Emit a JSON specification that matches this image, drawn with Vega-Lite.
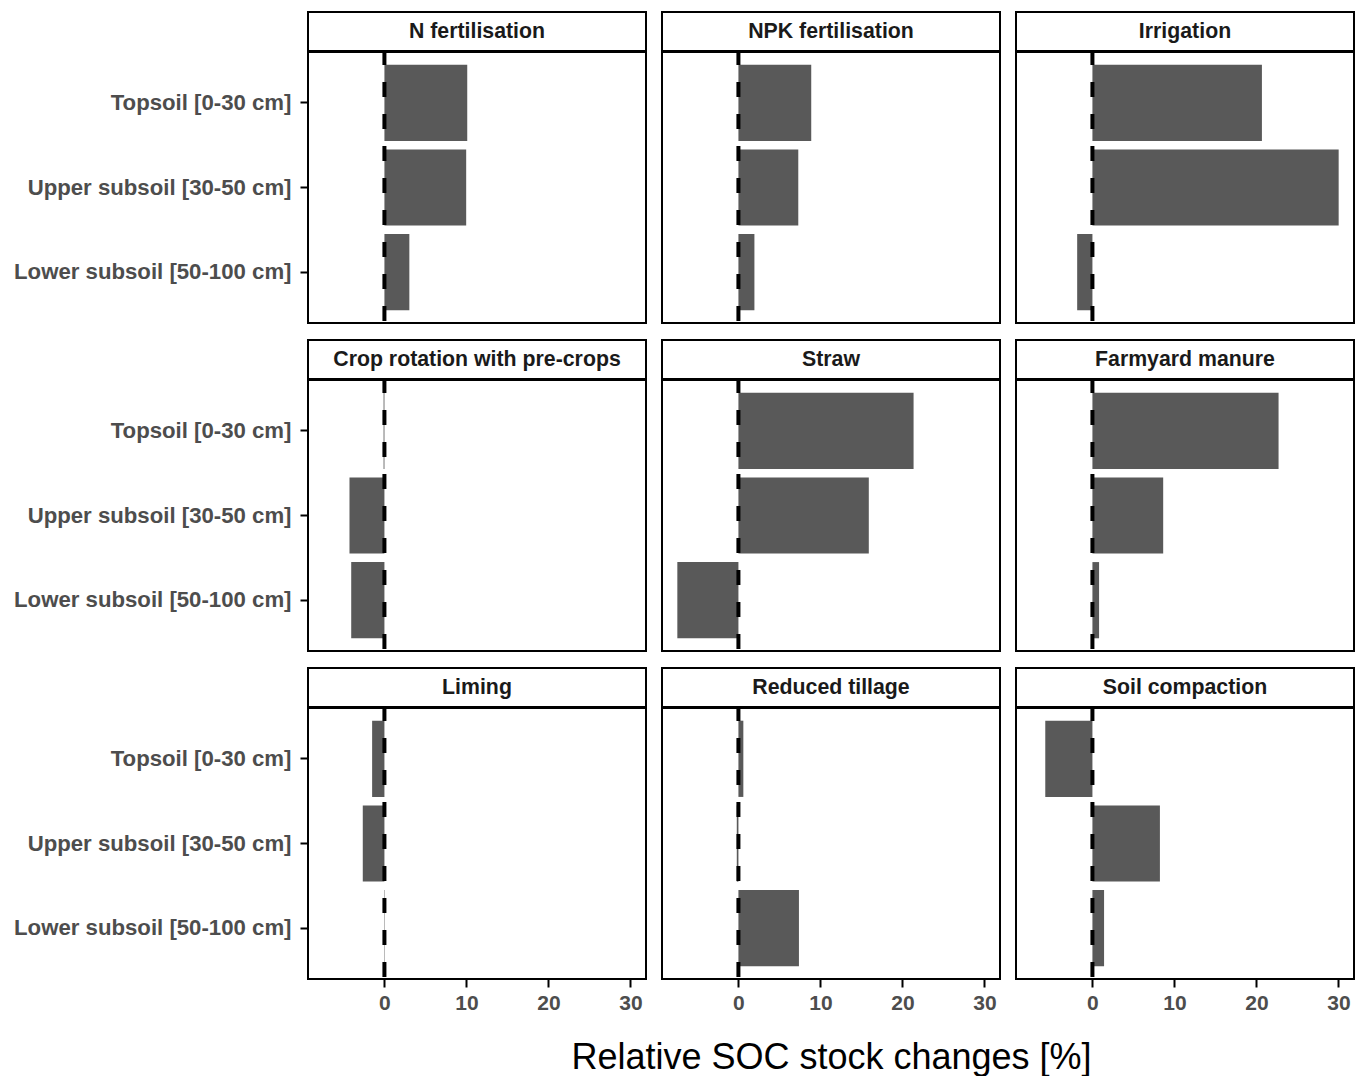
{
  "$schema": "https://vega.github.io/schema/vega-lite/v6.json",
  "background": "white",
  "padding": {"left": 12, "top": 11, "right": 5, "bottom": 5},
  "datasets": {
    "soc": [
      {"treatment": "N fertilisation", "depth": "Topsoil [0-30 cm]", "change": 10.1},
      {"treatment": "N fertilisation", "depth": "Upper subsoil [30-50 cm]", "change": 9.97},
      {"treatment": "N fertilisation", "depth": "Lower subsoil [50-100 cm]", "change": 3.04},
      {"treatment": "NPK fertilisation", "depth": "Topsoil [0-30 cm]", "change": 8.88},
      {"treatment": "NPK fertilisation", "depth": "Upper subsoil [30-50 cm]", "change": 7.3},
      {"treatment": "NPK fertilisation", "depth": "Lower subsoil [50-100 cm]", "change": 1.95},
      {"treatment": "Irrigation", "depth": "Topsoil [0-30 cm]", "change": 20.67},
      {"treatment": "Irrigation", "depth": "Upper subsoil [30-50 cm]", "change": 30.03},
      {"treatment": "Irrigation", "depth": "Lower subsoil [50-100 cm]", "change": -1.86},
      {"treatment": "Crop rotation with pre-crops", "depth": "Topsoil [0-30 cm]", "change": -0.1},
      {"treatment": "Crop rotation with pre-crops", "depth": "Upper subsoil [30-50 cm]", "change": -4.26},
      {"treatment": "Crop rotation with pre-crops", "depth": "Lower subsoil [50-100 cm]", "change": -4.05},
      {"treatment": "Straw", "depth": "Topsoil [0-30 cm]", "change": 21.36},
      {"treatment": "Straw", "depth": "Upper subsoil [30-50 cm]", "change": 15.9},
      {"treatment": "Straw", "depth": "Lower subsoil [50-100 cm]", "change": -7.45},
      {"treatment": "Farmyard manure", "depth": "Topsoil [0-30 cm]", "change": 22.7},
      {"treatment": "Farmyard manure", "depth": "Upper subsoil [30-50 cm]", "change": 8.63},
      {"treatment": "Farmyard manure", "depth": "Lower subsoil [50-100 cm]", "change": 0.81},
      {"treatment": "Liming", "depth": "Topsoil [0-30 cm]", "change": -1.5},
      {"treatment": "Liming", "depth": "Upper subsoil [30-50 cm]", "change": -2.64},
      {"treatment": "Liming", "depth": "Lower subsoil [50-100 cm]", "change": 0.05},
      {"treatment": "Reduced tillage", "depth": "Topsoil [0-30 cm]", "change": 0.6},
      {"treatment": "Reduced tillage", "depth": "Upper subsoil [30-50 cm]", "change": -0.2},
      {"treatment": "Reduced tillage", "depth": "Lower subsoil [50-100 cm]", "change": 7.38},
      {"treatment": "Soil compaction", "depth": "Topsoil [0-30 cm]", "change": -5.75},
      {"treatment": "Soil compaction", "depth": "Upper subsoil [30-50 cm]", "change": 8.23},
      {"treatment": "Soil compaction", "depth": "Lower subsoil [50-100 cm]", "change": 1.42}
    ]
  },
  "spacing": 13,
  "vconcat": [
    {"spacing": -3, "vconcat": [
      {"spacing": 16, "bounds": "flush", "hconcat": [
        {"width": 338, "height": 39, "data": {"name": "soc"},
         "transform": [{"filter": "datum.treatment === 'N fertilisation' && datum.depth === 'Topsoil [0-30 cm]'"}],
         "layer": [{"mark": {"type": "rect", "fill": "white", "stroke": "black", "strokeWidth": 2}, "encoding": {}},
                   {"mark": {"type": "text"}, "encoding": {"text": {"field": "treatment"}}}]},
        {"width": 338, "height": 39, "data": {"name": "soc"},
         "transform": [{"filter": "datum.treatment === 'NPK fertilisation' && datum.depth === 'Topsoil [0-30 cm]'"}],
         "layer": [{"mark": {"type": "rect", "fill": "white", "stroke": "black", "strokeWidth": 2}, "encoding": {}},
                   {"mark": {"type": "text"}, "encoding": {"text": {"field": "treatment"}}}]},
        {"width": 338, "height": 39, "data": {"name": "soc"},
         "transform": [{"filter": "datum.treatment === 'Irrigation' && datum.depth === 'Topsoil [0-30 cm]'"}],
         "layer": [{"mark": {"type": "rect", "fill": "white", "stroke": "black", "strokeWidth": 2}, "encoding": {}},
                   {"mark": {"type": "text"}, "encoding": {"text": {"field": "treatment"}}}]}
      ]},
      {"spacing": 16, "bounds": "flush", "hconcat": [
        {"width": 338, "height": 271, "data": {"name": "soc"},
         "transform": [{"filter": "datum.treatment === 'N fertilisation'"}],
         "layer": [
           {"mark": {"type": "bar", "color": "#595959"},
            "encoding": {
              "x": {"field": "change", "type": "quantitative", "scale": {"domain": [-9.32, 31.9], "nice": false}, "axis": null},
              "x2": {"datum": 0},
              "y": {"field": "depth", "type": "nominal", "sort": ["Topsoil [0-30 cm]", "Upper subsoil [30-50 cm]", "Lower subsoil [50-100 cm]"], "scale": {"paddingInner": 0.1, "paddingOuter": 0.15}, "title": null}}},
           {"transform": [{"filter": "datum.depth === 'Topsoil [0-30 cm]'"}],
            "mark": {"type": "rule", "color": "black", "strokeWidth": 4, "strokeDash": [15, 17], "strokeDashOffset": 2},
            "encoding": {"x": {"datum": 0}}}
         ]},
        {"width": 338, "height": 271, "data": {"name": "soc"},
         "transform": [{"filter": "datum.treatment === 'NPK fertilisation'"}],
         "layer": [
           {"mark": {"type": "bar", "color": "#595959"},
            "encoding": {
              "x": {"field": "change", "type": "quantitative", "scale": {"domain": [-9.32, 31.9], "nice": false}, "axis": null},
              "x2": {"datum": 0},
              "y": {"field": "depth", "type": "nominal", "sort": ["Topsoil [0-30 cm]", "Upper subsoil [30-50 cm]", "Lower subsoil [50-100 cm]"], "scale": {"paddingInner": 0.1, "paddingOuter": 0.15}, "axis": null}}},
           {"transform": [{"filter": "datum.depth === 'Topsoil [0-30 cm]'"}],
            "mark": {"type": "rule", "color": "black", "strokeWidth": 4, "strokeDash": [15, 17], "strokeDashOffset": 2},
            "encoding": {"x": {"datum": 0}}}
         ]},
        {"width": 338, "height": 271, "data": {"name": "soc"},
         "transform": [{"filter": "datum.treatment === 'Irrigation'"}],
         "layer": [
           {"mark": {"type": "bar", "color": "#595959"},
            "encoding": {
              "x": {"field": "change", "type": "quantitative", "scale": {"domain": [-9.32, 31.9], "nice": false}, "axis": null},
              "x2": {"datum": 0},
              "y": {"field": "depth", "type": "nominal", "sort": ["Topsoil [0-30 cm]", "Upper subsoil [30-50 cm]", "Lower subsoil [50-100 cm]"], "scale": {"paddingInner": 0.1, "paddingOuter": 0.15}, "axis": null}}},
           {"transform": [{"filter": "datum.depth === 'Topsoil [0-30 cm]'"}],
            "mark": {"type": "rule", "color": "black", "strokeWidth": 4, "strokeDash": [15, 17], "strokeDashOffset": 2},
            "encoding": {"x": {"datum": 0}}}
         ]}
      ]}
    ]},
    {"spacing": -3, "vconcat": [
      {"spacing": 16, "bounds": "flush", "hconcat": [
        {"width": 338, "height": 39, "data": {"name": "soc"},
         "transform": [{"filter": "datum.treatment === 'Crop rotation with pre-crops' && datum.depth === 'Topsoil [0-30 cm]'"}],
         "layer": [{"mark": {"type": "rect", "fill": "white", "stroke": "black", "strokeWidth": 2}, "encoding": {}},
                   {"mark": {"type": "text"}, "encoding": {"text": {"field": "treatment"}}}]},
        {"width": 338, "height": 39, "data": {"name": "soc"},
         "transform": [{"filter": "datum.treatment === 'Straw' && datum.depth === 'Topsoil [0-30 cm]'"}],
         "layer": [{"mark": {"type": "rect", "fill": "white", "stroke": "black", "strokeWidth": 2}, "encoding": {}},
                   {"mark": {"type": "text"}, "encoding": {"text": {"field": "treatment"}}}]},
        {"width": 338, "height": 39, "data": {"name": "soc"},
         "transform": [{"filter": "datum.treatment === 'Farmyard manure' && datum.depth === 'Topsoil [0-30 cm]'"}],
         "layer": [{"mark": {"type": "rect", "fill": "white", "stroke": "black", "strokeWidth": 2}, "encoding": {}},
                   {"mark": {"type": "text"}, "encoding": {"text": {"field": "treatment"}}}]}
      ]},
      {"spacing": 16, "bounds": "flush", "hconcat": [
        {"width": 338, "height": 271, "data": {"name": "soc"},
         "transform": [{"filter": "datum.treatment === 'Crop rotation with pre-crops'"}],
         "layer": [
           {"mark": {"type": "bar", "color": "#595959"},
            "encoding": {
              "x": {"field": "change", "type": "quantitative", "scale": {"domain": [-9.32, 31.9], "nice": false}, "axis": null},
              "x2": {"datum": 0},
              "y": {"field": "depth", "type": "nominal", "sort": ["Topsoil [0-30 cm]", "Upper subsoil [30-50 cm]", "Lower subsoil [50-100 cm]"], "scale": {"paddingInner": 0.1, "paddingOuter": 0.15}, "title": null}}},
           {"transform": [{"filter": "datum.depth === 'Topsoil [0-30 cm]'"}],
            "mark": {"type": "rule", "color": "black", "strokeWidth": 4, "strokeDash": [15, 17], "strokeDashOffset": 2},
            "encoding": {"x": {"datum": 0}}}
         ]},
        {"width": 338, "height": 271, "data": {"name": "soc"},
         "transform": [{"filter": "datum.treatment === 'Straw'"}],
         "layer": [
           {"mark": {"type": "bar", "color": "#595959"},
            "encoding": {
              "x": {"field": "change", "type": "quantitative", "scale": {"domain": [-9.32, 31.9], "nice": false}, "axis": null},
              "x2": {"datum": 0},
              "y": {"field": "depth", "type": "nominal", "sort": ["Topsoil [0-30 cm]", "Upper subsoil [30-50 cm]", "Lower subsoil [50-100 cm]"], "scale": {"paddingInner": 0.1, "paddingOuter": 0.15}, "axis": null}}},
           {"transform": [{"filter": "datum.depth === 'Topsoil [0-30 cm]'"}],
            "mark": {"type": "rule", "color": "black", "strokeWidth": 4, "strokeDash": [15, 17], "strokeDashOffset": 2},
            "encoding": {"x": {"datum": 0}}}
         ]},
        {"width": 338, "height": 271, "data": {"name": "soc"},
         "transform": [{"filter": "datum.treatment === 'Farmyard manure'"}],
         "layer": [
           {"mark": {"type": "bar", "color": "#595959"},
            "encoding": {
              "x": {"field": "change", "type": "quantitative", "scale": {"domain": [-9.32, 31.9], "nice": false}, "axis": null},
              "x2": {"datum": 0},
              "y": {"field": "depth", "type": "nominal", "sort": ["Topsoil [0-30 cm]", "Upper subsoil [30-50 cm]", "Lower subsoil [50-100 cm]"], "scale": {"paddingInner": 0.1, "paddingOuter": 0.15}, "axis": null}}},
           {"transform": [{"filter": "datum.depth === 'Topsoil [0-30 cm]'"}],
            "mark": {"type": "rule", "color": "black", "strokeWidth": 4, "strokeDash": [15, 17], "strokeDashOffset": 2},
            "encoding": {"x": {"datum": 0}}}
         ]}
      ]}
    ]},
    {"spacing": -3, "vconcat": [
      {"spacing": 16, "bounds": "flush", "hconcat": [
        {"width": 338, "height": 39, "data": {"name": "soc"},
         "transform": [{"filter": "datum.treatment === 'Liming' && datum.depth === 'Topsoil [0-30 cm]'"}],
         "layer": [{"mark": {"type": "rect", "fill": "white", "stroke": "black", "strokeWidth": 2}, "encoding": {}},
                   {"mark": {"type": "text"}, "encoding": {"text": {"field": "treatment"}}}]},
        {"width": 338, "height": 39, "data": {"name": "soc"},
         "transform": [{"filter": "datum.treatment === 'Reduced tillage' && datum.depth === 'Topsoil [0-30 cm]'"}],
         "layer": [{"mark": {"type": "rect", "fill": "white", "stroke": "black", "strokeWidth": 2}, "encoding": {}},
                   {"mark": {"type": "text"}, "encoding": {"text": {"field": "treatment"}}}]},
        {"width": 338, "height": 39, "data": {"name": "soc"},
         "transform": [{"filter": "datum.treatment === 'Soil compaction' && datum.depth === 'Topsoil [0-30 cm]'"}],
         "layer": [{"mark": {"type": "rect", "fill": "white", "stroke": "black", "strokeWidth": 2}, "encoding": {}},
                   {"mark": {"type": "text"}, "encoding": {"text": {"field": "treatment"}}}]}
      ]},
      {"spacing": 16, "bounds": "flush", "hconcat": [
        {"width": 338, "height": 271, "data": {"name": "soc"},
         "transform": [{"filter": "datum.treatment === 'Liming'"}],
         "layer": [
           {"mark": {"type": "bar", "color": "#595959"},
            "encoding": {
              "x": {"field": "change", "type": "quantitative", "scale": {"domain": [-9.32, 31.9], "nice": false}, "axis": {"values": [0, 10, 20, 30]}, "title": null},
              "x2": {"datum": 0},
              "y": {"field": "depth", "type": "nominal", "sort": ["Topsoil [0-30 cm]", "Upper subsoil [30-50 cm]", "Lower subsoil [50-100 cm]"], "scale": {"paddingInner": 0.1, "paddingOuter": 0.15}, "title": null}}},
           {"transform": [{"filter": "datum.depth === 'Topsoil [0-30 cm]'"}],
            "mark": {"type": "rule", "color": "black", "strokeWidth": 4, "strokeDash": [15, 17], "strokeDashOffset": 2},
            "encoding": {"x": {"datum": 0}}}
         ]},
        {"width": 338, "height": 271, "data": {"name": "soc"},
         "transform": [{"filter": "datum.treatment === 'Reduced tillage'"}],
         "layer": [
           {"mark": {"type": "bar", "color": "#595959"},
            "encoding": {
              "x": {"field": "change", "type": "quantitative", "scale": {"domain": [-9.32, 31.9], "nice": false}, "axis": {"values": [0, 10, 20, 30]}, "title": "Relative SOC stock changes [%]"},
              "x2": {"datum": 0},
              "y": {"field": "depth", "type": "nominal", "sort": ["Topsoil [0-30 cm]", "Upper subsoil [30-50 cm]", "Lower subsoil [50-100 cm]"], "scale": {"paddingInner": 0.1, "paddingOuter": 0.15}, "axis": null}}},
           {"transform": [{"filter": "datum.depth === 'Topsoil [0-30 cm]'"}],
            "mark": {"type": "rule", "color": "black", "strokeWidth": 4, "strokeDash": [15, 17], "strokeDashOffset": 2},
            "encoding": {"x": {"datum": 0}}}
         ]},
        {"width": 338, "height": 271, "data": {"name": "soc"},
         "transform": [{"filter": "datum.treatment === 'Soil compaction'"}],
         "layer": [
           {"mark": {"type": "bar", "color": "#595959"},
            "encoding": {
              "x": {"field": "change", "type": "quantitative", "scale": {"domain": [-9.32, 31.9], "nice": false}, "axis": {"values": [0, 10, 20, 30]}, "title": null},
              "x2": {"datum": 0},
              "y": {"field": "depth", "type": "nominal", "sort": ["Topsoil [0-30 cm]", "Upper subsoil [30-50 cm]", "Lower subsoil [50-100 cm]"], "scale": {"paddingInner": 0.1, "paddingOuter": 0.15}, "axis": null}}},
           {"transform": [{"filter": "datum.depth === 'Topsoil [0-30 cm]'"}],
            "mark": {"type": "rule", "color": "black", "strokeWidth": 4, "strokeDash": [15, 17], "strokeDashOffset": 2},
            "encoding": {"x": {"datum": 0}}}
         ]}
      ]}
    ]}
  ],
  "config": {
    "view": {"stroke": "black", "strokeWidth": 2, "fill": "white"},
    "text": {"font": "Liberation Sans", "fontWeight": "bold", "fontSize": 21.3, "color": "#1A1A1A", "baseline": "middle", "align": "center"},
    "axis": {"domain": false, "grid": false, "tickColor": "black", "tickWidth": 2, "tickSize": 8, "labelFont": "Liberation Sans", "labelFontWeight": "bold", "labelColor": "#4D4D4D", "titleFont": "Liberation Sans", "titleFontWeight": "normal", "titleColor": "black"},
    "axisX": {"labelFontSize": 21, "labelPadding": 5, "titleFontSize": 36, "titlePadding": 27},
    "axisY": {"labelFontSize": 22.2, "labelPadding": 9, "labelLimit": 0}
  }
}
